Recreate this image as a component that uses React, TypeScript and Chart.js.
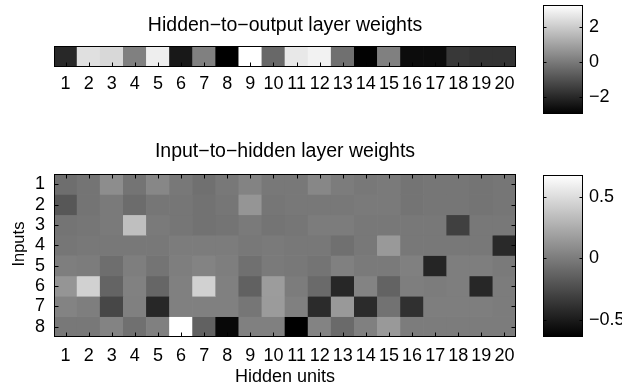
import React, { useEffect, useRef } from "react";
import { Chart, registerables } from "chart.js";
Chart.register(...registerables);

const FONT = "'Liberation Sans', Arial, Helvetica, sans-serif";

const hiddenUnits = ["1","2","3","4","5","6","7","8","9","10","11","12","13","14","15","16","17","18","19","20"];
const inputs = ["1","2","3","4","5","6","7","8"];
const inputsAxisLabel = "Inputs";
const hiddenAxisLabel = "Hidden units";

const outputWeights = [-2.02, 2.53, 2.34, 0.16, 2.88, -2.42, 0.16, -3.01, 3.30, -0.44, 2.73, 2.98, -0.24, -2.96, 0.16, -2.71, -2.71, -1.62, -1.75, -1.75];

const inputRow1 = [-0.07,-0.04,0.09,-0.04,0.06,-0.02,-0.06,-0.02,0.04,-0.02,-0.02,0.06,0.00,-0.02,-0.01,-0.04,-0.03,-0.03,-0.04,-0.03];
const inputRow2 = [-0.19,-0.04,-0.01,-0.08,-0.03,-0.03,-0.05,-0.03,0.13,-0.03,-0.02,-0.02,-0.02,-0.01,-0.01,-0.04,-0.03,-0.03,-0.04,-0.03];
const inputRow3 = [-0.04,-0.03,-0.01,0.35,-0.01,-0.03,-0.05,-0.04,-0.01,-0.04,-0.03,0.00,0.00,-0.02,-0.02,-0.02,-0.02,-0.31,-0.02,-0.02];
const inputRow4 = [-0.03,-0.02,-0.02,-0.02,-0.02,0.00,0.00,0.00,-0.02,-0.01,-0.02,-0.02,-0.06,-0.02,0.15,-0.02,-0.02,-0.02,-0.02,-0.43];
const inputRow5 = [0.01,0.00,-0.07,0.01,-0.04,0.01,0.04,0.01,-0.06,-0.01,-0.02,-0.04,0.02,-0.01,-0.01,0.02,-0.45,0.01,0.01,-0.01];
const inputRow6 = [0.13,0.44,-0.12,0.03,-0.11,0.02,0.44,0.02,-0.14,0.17,0.00,-0.09,-0.44,0.04,-0.13,0.01,0.00,0.01,-0.44,0.00];
const inputRow7 = [0.04,0.01,-0.27,0.02,-0.44,0.02,0.02,0.02,-0.03,0.16,0.02,-0.42,0.15,-0.42,-0.05,-0.39,0.01,0.01,0.01,0.00];
const inputRow8 = [-0.02,-0.02,0.04,-0.06,0.02,0.68,-0.14,-0.60,0.02,0.02,-0.64,0.04,-0.09,0.02,0.15,0.00,0.00,0.00,0.00,0.00];
const inputWeights = [inputRow1, inputRow2, inputRow3, inputRow4, inputRow5, inputRow6, inputRow7, inputRow8];

const outputColorTicks = [-2, 0, 2];
const inputColorTicks = [-0.5, 0, 0.5];

const outMin = Math.min(...outputWeights);
const outMax = Math.max(...outputWeights);
const inMin = Math.min(...inputWeights.flat());
const inMax = Math.max(...inputWeights.flat());

function gray(v: number, lo: number, hi: number) {
  const t = Math.max(0, Math.min(1, (v - lo) / (hi - lo)));
  const g = Math.round(t * 255);
  return `rgb(${g},${g},${g})`;
}

const fmt = (v: number) => String(v).replace("-", "\u2212");

function framePlugin(o: { x?: "bottom" | "both"; y?: boolean; len: number }) {
  return {
    id: "frameTicks",
    afterDatasetsDraw(chart: any) {
      const { ctx, chartArea: a, scales } = chart;
      ctx.save();
      ctx.strokeStyle = "#000";
      ctx.lineWidth = 1;
      const L = Math.round(a.left) + 0.5;
      const R = Math.round(a.right) - 0.5;
      const T = Math.round(a.top) + 0.5;
      const B = Math.round(a.bottom) - 0.5;
      ctx.beginPath();
      if (o.x) {
        const s = scales.x;
        s.ticks.forEach((_: any, i: number) => {
          const p = Math.round(s.getPixelForTick(i)) + 0.5;
          ctx.moveTo(p, B);
          ctx.lineTo(p, B - o.len);
          if (o.x === "both") {
            ctx.moveTo(p, T);
            ctx.lineTo(p, T + o.len);
          }
        });
      }
      if (o.y) {
        const s = scales.y;
        s.ticks.forEach((t: any) => {
          const p = Math.round(s.getPixelForValue(t.value)) + 0.5;
          ctx.moveTo(L, p);
          ctx.lineTo(L + o.len, p);
          ctx.moveTo(R, p);
          ctx.lineTo(R - o.len, p);
        });
      }
      ctx.stroke();
      ctx.strokeRect(L, T, R - L, B - T);
      ctx.restore();
    },
  };
}

const yLabelPlugin = {
  id: "yLabel",
  afterDraw(chart: any) {
    const { ctx, chartArea: a } = chart;
    ctx.save();
    ctx.translate(a.left - 35, a.top + (a.bottom - a.top) * 0.43);
    ctx.rotate(-Math.PI / 2);
    ctx.font = `16.5px ${FONT}`;
    ctx.fillStyle = "#000";
    ctx.textAlign = "center";
    ctx.textBaseline = "middle";
    ctx.fillText(inputsAxisLabel, 0, 0);
    ctx.restore();
  },
};

const titleFont = { family: FONT, size: 19.5, weight: "normal", lineHeight: 1 };
const tickFont = { family: FONT, size: 18 };

function topHeatmapConfig(): any {
  return {
    type: "bar",
    data: {
      labels: hiddenUnits,
      datasets: [
        {
          data: outputWeights.map(() => 1),
          backgroundColor: outputWeights.map((v) => gray(v, outMin, outMax)),
          borderWidth: 0,
          barPercentage: 1,
          categoryPercentage: 1,
        },
      ],
    },
    options: {
      animation: false,
      responsive: false,
      events: [],
      layout: { padding: { left: 54, right: 54, top: 0, bottom: 0 } },
      plugins: {
        legend: { display: false },
        tooltip: { enabled: false },
        title: {
          display: true,
          text: "Hidden\u2212to\u2212output layer weights",
          color: "#000",
          font: titleFont,
          padding: { top: 15.8, bottom: 10.7 },
        },
      },
      scales: {
        x: {
          grid: { display: false, drawTicks: false },
          border: { display: false },
          ticks: { color: "#000", font: tickFont, padding: 6, maxRotation: 0, autoSkip: false },
          afterFit: (s: any) => { s.height = 43; },
        },
        y: { display: false, min: 0, max: 1 },
      },
    },
    plugins: [framePlugin({ x: "bottom", len: 4 })],
  };
}

function bottomHeatmapConfig(): any {
  return {
    type: "bar",
    data: {
      labels: hiddenUnits,
      datasets: inputWeights.map((row, r) => ({
        label: inputs[r],
        data: row.map(() => 1),
        backgroundColor: row.map((v) => gray(v, inMin, inMax)),
        borderWidth: 0,
        barPercentage: 1,
        categoryPercentage: 1,
      })),
    },
    options: {
      animation: false,
      responsive: false,
      events: [],
      layout: { padding: { left: 0, right: 0, top: 0, bottom: 0 } },
      plugins: {
        legend: { display: false },
        tooltip: { enabled: false },
        title: {
          display: true,
          text: "Input\u2212to\u2212hidden layer weights",
          color: "#000",
          font: titleFont,
          padding: { top: 11.8, bottom: 12.7 },
        },
      },
      scales: {
        x: {
          stacked: true,
          grid: { display: false, drawTicks: false },
          border: { display: false },
          ticks: { color: "#000", font: tickFont, padding: 8, maxRotation: 0, autoSkip: false },
          title: { display: true, text: hiddenAxisLabel, color: "#000", font: { family: FONT, size: 18, lineHeight: 1 }, padding: { top: 0, bottom: 1 } },
          afterFit: (s: any) => { s.height = 50; s.paddingLeft = 0; s.paddingRight = 0; },
        },
        y: {
          stacked: true,
          reverse: true,
          min: 0,
          max: inputs.length,
          grid: { display: false, drawTicks: false },
          border: { display: false },
          afterBuildTicks: (s: any) => { s.ticks = inputs.map((_, i) => ({ value: i + 0.5 })); },
          ticks: { color: "#000", font: tickFont, padding: 9, autoSkip: false, callback: (_v: any, i: number) => inputs[i] },
          afterFit: (s: any) => { s.width = 54; s.paddingTop = 0; s.paddingBottom = 0; },
        },
        yRight: {
          position: "right",
          min: 0,
          max: 1,
          grid: { display: false, drawTicks: false },
          border: { display: false },
          ticks: { display: false },
          afterFit: (s: any) => { s.width = 54; s.paddingTop = 0; s.paddingBottom = 0; },
        },
      },
    },
    plugins: [framePlugin({ x: "both", y: true, len: 4 }), yLabelPlugin],
  };
}

function colorbarConfig(lo: number, hi: number, ticks: number[], padTop: number, padBottom: number): any {
  return {
    type: "bar",
    data: {
      labels: ["c"],
      datasets: [
        {
          data: [[lo, hi]],
          backgroundColor: (c: any) => {
            const area = c.chart.chartArea;
            if (!area) return "#808080";
            const g = c.chart.ctx.createLinearGradient(0, area.bottom, 0, area.top);
            g.addColorStop(0, "#000");
            g.addColorStop(1, "#fff");
            return g;
          },
          borderWidth: 0,
          barPercentage: 1,
          categoryPercentage: 1,
        },
      ],
    },
    options: {
      animation: false,
      responsive: false,
      events: [],
      layout: { padding: { left: 23, right: 0, top: padTop, bottom: padBottom } },
      plugins: { legend: { display: false }, tooltip: { enabled: false } },
      scales: {
        x: { display: false },
        y: {
          position: "right",
          min: lo,
          max: hi,
          grid: { display: false, drawTicks: false },
          border: { display: false },
          afterBuildTicks: (s: any) => { s.ticks = ticks.map((v) => ({ value: v })); },
          ticks: { color: "#000", font: tickFont, padding: 6, autoSkip: false, callback: (v: number) => fmt(v) },
          afterFit: (s: any) => { s.width = 57; s.paddingTop = 0; s.paddingBottom = 0; },
        },
      },
    },
    plugins: [framePlugin({ y: true, len: 3 })],
  };
}

function ChartBox(props: { make: () => any; left: number; top: number; width: number; height: number }) {
  const ref = useRef<HTMLCanvasElement>(null);
  useEffect(() => {
    const chart = new Chart(ref.current as HTMLCanvasElement, props.make());
    return () => chart.destroy();
  }, []);
  return (
    <canvas
      ref={ref}
      width={props.width}
      height={props.height}
      style={{ position: "absolute", left: props.left, top: props.top, width: props.width, height: props.height }}
    />
  );
}

export default function App() {
  return (
    <div style={{ position: "fixed", left: 0, top: 0, width: 622, height: 387, overflow: "hidden", background: "#fff" }}>
      <ChartBox make={topHeatmapConfig} left={0} top={0} width={570} height={110} />
      <ChartBox make={bottomHeatmapConfig} left={0} top={130} width={570} height={257} />
      <ChartBox make={() => colorbarConfig(outMin, outMax, outputColorTicks, 5, 16)} left={520} top={0} width={120} height={130} />
      <ChartBox make={() => colorbarConfig(inMin, inMax, inputColorTicks, 15, 13)} left={520} top={160} width={120} height={190} />
    </div>
  );
}
